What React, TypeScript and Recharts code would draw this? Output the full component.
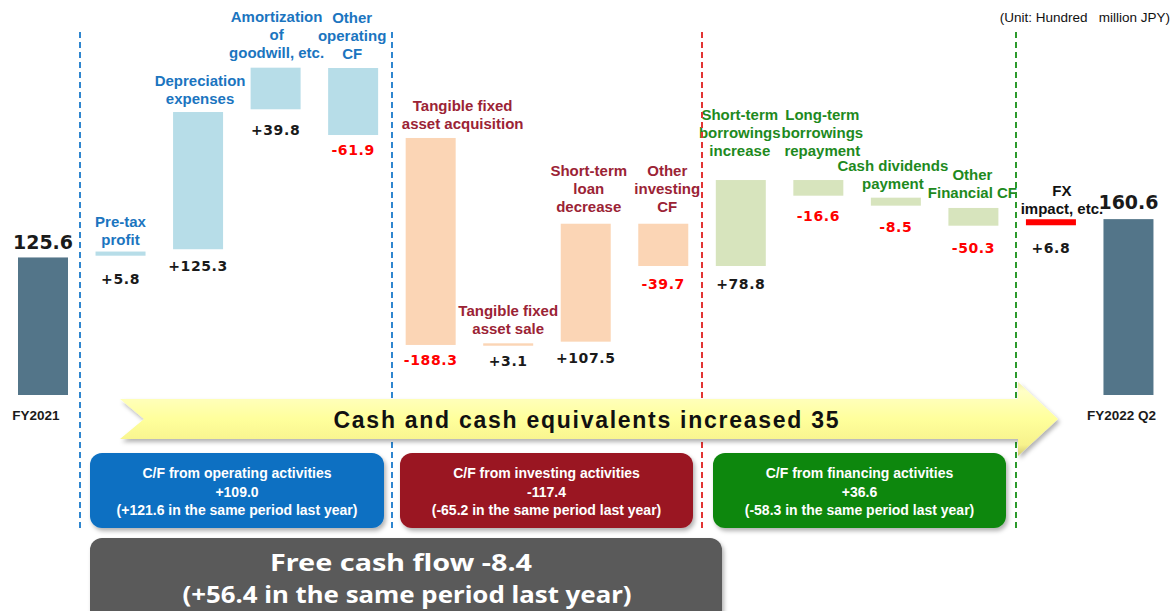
import React from 'react';
import { ComposedChart, Bar, XAxis, YAxis } from 'recharts';

// ---------- data ----------
const categories = [
  'FY2021', 'Pre-tax profit', 'Depreciation expenses', 'Amortization of goodwill, etc.', 'Other operating CF',
  'Tangible fixed asset acquisition', 'Tangible fixed asset sale', 'Short-term loan decrease', 'Other investing CF',
  'Short-term borrowings increase', 'Long-term borrowings repayment', 'Cash dividends payment', 'Other Financial CF',
  'FX impact, etc.', 'FY2022 Q2',
];
const categoryLines: string[][] = [
  [], ['Pre-tax', 'profit'], ['Depreciation', 'expenses'], ['Amortization', 'of', 'goodwill, etc.'], ['Other', 'operating', 'CF'],
  ['Tangible fixed', 'asset acquisition'], ['Tangible fixed', 'asset sale'], ['Short-term', 'loan', 'decrease'], ['Other', 'investing', 'CF'],
  ['Short-term', 'borrowings', 'increase'], ['Long-term', 'borrowings', 'repayment'], ['Cash dividends', 'payment'], ['Other', 'Financial CF'],
  ['FX', 'impact, etc.'], [],
];
const barLow = [0, 127.2, 133.1, 260.9, 237.4, 45.7, 45.0, 48.7, 117.8, 117.8, 182.0, 172.9, 154.6, 155.0, 0];
const barHigh = [125.6, 131.0, 258.4, 298.9, 298.6, 234.7, 47.2, 156.4, 156.4, 196.3, 196.3, 180.2, 170.8, 160.5, 160.6];
const valueLabels = ['125.6', '+5.8', '+125.3', '+39.8', '-61.9', '-188.3', '+3.1', '+107.5', '-39.7', '+78.8', '-16.6', '-8.5', '-50.3', '+6.8', '160.6'];
const groups = ['total', 'operating', 'operating', 'operating', 'operating', 'investing', 'investing', 'investing', 'investing',
  'financing', 'financing', 'financing', 'financing', 'fx', 'total'];

const unitText = '(Unit: Hundred   million JPY)';
const arrowText = 'Cash and cash equivalents increased 35';
const operatingBox = ['C/F from operating activities', '+109.0', '(+121.6 in the same period last year)'];
const investingBox = ['C/F from investing activities', '-117.4', '(-65.2 in the same period last year)'];
const financingBox = ['C/F from financing activities', '+36.6', '(-58.3 in the same period last year)'];
const fcfBox = ['Free cash flow -8.4', '(+56.4 in the same period last year)'];

const data = categories.map((name, i) => ({ name, range: [barLow[i], barHigh[i]] }));

// ---------- styles ----------
const BAR_COLORS: Record<string, string> = {
  total: '#537589', operating: '#b7dde8', investing: '#fbd5b5', financing: '#d7e4bd', fx: '#ff0000',
};
const NAME_COLORS: Record<string, string> = {
  operating: '#1b75bf', investing: '#9b2335', financing: '#1e8a1e', fx: '#111111', total: '#111111',
};
const nameDx = [-7, 0, 2, 1, -1, 32, 0, 3, 4, -1, 4, -3, -1, 11, -7];
const nameLastDy = [0, -12, -14, -15, -15, -14, -15, -17, -17, -30, -30, -14, -15, -11, 0];
const valueDy = [-15, 23, 17, 21, 15, 15, 15, 16, 18, 18, 20, 21, 22, 23, -17];
const LINE_H = 18;
const CAT_FONT = '"Liberation Sans", Arial, sans-serif';
const VAL_FONT = '"DejaVu Sans", sans-serif';

const WaterfallShape = (props: any) => {
  const { x, y, width, height } = props;
  let index = props.index;
  if (index == null && props.payload) index = categories.indexOf(props.payload.name);
  const top = Math.min(y, y + height);
  const bottom = Math.max(y, y + height);
  const h = Math.max(bottom - top, 1);
  const g = groups[index];
  const cx = x + width / 2;
  const lines = categoryLines[index] || [];
  const isTotal = g === 'total';
  const label = valueLabels[index];
  const neg = label.startsWith('-');
  return (
    <g>
      <rect x={x} y={top} width={width} height={h} fill={BAR_COLORS[g]} />
      {!isTotal &&
        lines.map((t, k) => (
          <text
            key={k}
            x={cx + nameDx[index]}
            y={top + nameLastDy[index] - (lines.length - 1 - k) * LINE_H}
            textAnchor="middle"
            dominantBaseline="central"
            fontFamily={CAT_FONT}
            fontWeight={700}
            fontSize={15}
            fill={NAME_COLORS[g]}
          >
            {t}
          </text>
        ))}
      {isTotal ? (
        <>
          <text x={cx} y={top + valueDy[index]} textAnchor="middle" dominantBaseline="central"
            fontFamily={VAL_FONT} fontWeight={700} fontSize={19} fill="#1a1a1a">{label}</text>
          <text x={cx + nameDx[index]} y={bottom + 20} textAnchor="middle" dominantBaseline="central"
            fontFamily={CAT_FONT} fontWeight={700} fontSize={13.5} fill="#1a1a1a">{categories[index]}</text>
        </>
      ) : (
        <text x={cx} y={bottom + valueDy[index]} textAnchor="middle" dominantBaseline="central"
          fontFamily={VAL_FONT} fontWeight={700} fontSize={14} letterSpacing={0.6}
          fill={neg ? '#ff0000' : '#1a1a1a'}>{label}</text>
      )}
    </g>
  );
};

const Box = ({ x, y, w, h, fill, lines }: { x: number; y: number; w: number; h: number; fill: string; lines: string[] }) => (
  <g>
    <rect x={x} y={y} width={w} height={h} rx={12} fill={fill} filter="url(#shadow)" />
    {lines.map((t, k) => (
      <text key={k} x={x + w / 2} y={y + 20 + k * 18.5} textAnchor="middle" dominantBaseline="central"
        fontFamily={CAT_FONT} fontWeight={700} fontSize={14} fill="#ffffff">{t}</text>
    ))}
  </g>
);

export default function App() {
  return (
    <div style={{ position: 'absolute', left: 0, top: 0, width: 1176, height: 611, background: '#ffffff', overflow: 'hidden' }}>
      <div style={{ position: 'absolute', left: 0, top: 0 }}>
        <ComposedChart width={1176} height={611} data={data} margin={{ top: 0, right: 9, bottom: 216, left: 4 }} barCategoryGap={0}>
          <XAxis dataKey="name" type="category" hide />
          <YAxis type="number" domain={[0, 360.7]} hide />
          <Bar dataKey="range" barSize={50} isAnimationActive={false} shape={WaterfallShape} />
        </ComposedChart>
      </div>
      <svg width={1176} height={611} style={{ position: 'absolute', left: 0, top: 0, pointerEvents: 'none' }}>
        <defs>
          <filter id="shadow" x="-10%" y="-10%" width="120%" height="130%">
            <feDropShadow dx={2} dy={3} stdDeviation={2} floodColor="#000" floodOpacity={0.3} />
          </filter>
          <linearGradient id="arrowGrad" x1="0" y1="0" x2="0" y2="1">
            <stop offset="0" stopColor="#f2eea8" />
            <stop offset="0.12" stopColor="#ffffc6" />
            <stop offset="0.5" stopColor="#ffff9c" />
            <stop offset="0.85" stopColor="#f7f28c" />
            <stop offset="1" stopColor="#cfc774" />
          </linearGradient>
        </defs>
        <text x={1170} y={17} textAnchor="end" dominantBaseline="central" fontFamily={CAT_FONT} fontSize={13.5}
          fill="#111" style={{ whiteSpace: 'pre' }}>{unitText}</text>
        <line x1={80} y1={32} x2={80} y2={530} stroke="#2f86cf" strokeWidth={2} strokeDasharray="6 4" />
        <line x1={392} y1={32} x2={392} y2={530} stroke="#2f86cf" strokeWidth={2} strokeDasharray="6 4" />
        <line x1={702} y1={32} x2={702} y2={530} stroke="#e23434" strokeWidth={2} strokeDasharray="6 4" />
        <line x1={1016} y1={32} x2={1016} y2={530} stroke="#2c9a2c" strokeWidth={2} strokeDasharray="6 4" />
        <polygon points="120,399 1018,399 1018,382 1058,419 1018,456 1018,439 120,439 144,419"
          fill="url(#arrowGrad)" filter="url(#shadow)" />
        <text x={586} y={420} textAnchor="middle" dominantBaseline="central" fontFamily={CAT_FONT} fontWeight={700}
          fontSize={23} textLength={505} lengthAdjust="spacing" fill="#111">{arrowText}</text>
        <Box x={90} y={453} w={294} h={75} fill="#0a6fc2" lines={operatingBox} />
        <Box x={400} y={453} w={293} h={75} fill="#9a1422" lines={investingBox} />
        <Box x={713} y={453} w={293} h={75} fill="#0b870b" lines={financingBox} />
        <rect x={90} y={538} width={632} height={90} rx={12} fill="#5a5a5a" filter="url(#shadow)" />
        <text x={401} y={561} textAnchor="middle" dominantBaseline="central" fontFamily='"Noto Sans", sans-serif'
          fontWeight={700} fontSize={24} textLength={262} lengthAdjust="spacingAndGlyphs" fill="#fff">{fcfBox[0]}</text>
        <text x={407} y={593} textAnchor="middle" dominantBaseline="central" fontFamily='"Noto Sans", sans-serif'
          fontWeight={700} fontSize={24} textLength={449} lengthAdjust="spacingAndGlyphs" fill="#fff">{fcfBox[1]}</text>
      </svg>
    </div>
  );
}
